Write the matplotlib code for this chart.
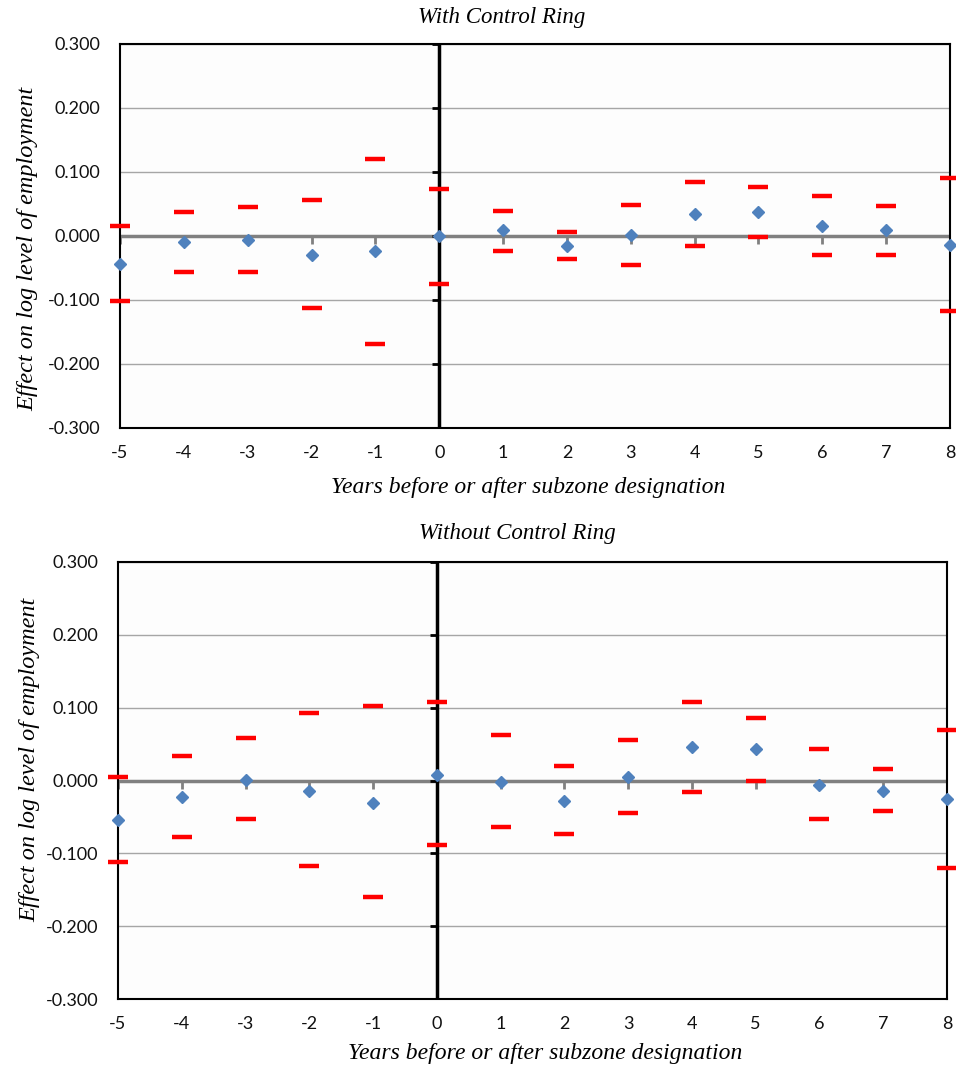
import numpy as np
import matplotlib
matplotlib.use('Agg')
import matplotlib.pyplot as plt

### Data ###
years = [-5, -4, -3, -2, -1, 0, 1, 2, 3, 4, 5, 6, 7, 8]

with_est   = [-0.044, -0.009, -0.006, -0.029, -0.024, 0.000, 0.009, -0.015, 0.001, 0.034, 0.038, 0.016, 0.010, -0.014]
with_upper = [0.016, 0.038, 0.046, 0.056, 0.121, 0.074, 0.039, 0.007, 0.049, 0.085, 0.076, 0.062, 0.047, 0.091]
with_lower = [-0.102, -0.056, -0.056, -0.113, -0.168, -0.075, -0.023, -0.036, -0.046, -0.016, -0.001, -0.030, -0.029, -0.117]

without_est   = [-0.054, -0.023, 0.001, -0.014, -0.031, 0.008, -0.002, -0.028, 0.005, 0.046, 0.043, -0.006, -0.014, -0.026]
without_upper = [0.005, 0.033, 0.059, 0.092, 0.102, 0.108, 0.062, 0.020, 0.055, 0.108, 0.086, 0.043, 0.016, 0.069]
without_lower = [-0.112, -0.077, -0.053, -0.117, -0.160, -0.089, -0.064, -0.073, -0.044, -0.016, 0.000, -0.053, -0.042, -0.120]

yticks = [-0.3, -0.2, -0.1, 0.0, 0.1, 0.2, 0.3]

panels = [
    ('With Control Ring', with_est, with_upper, with_lower),
    ('Without Control Ring', without_est, without_upper, without_lower),
]

### Layout (pixels -> figure fractions) ###
W, H = 956, 1068
axes_px = [(120, 950, 44, 428), (118, 947, 562, 999)]
title_pos = [(502, 17), (517, 533)]
xlabel_pos = [(528, 487), (545, 1053)]
ylabel_pos = [(28, 249), (30, 760)]

SERIF = ['Liberation Serif', 'DejaVu Serif']
SANS = ['Lato', 'DejaVu Sans']

fig = plt.figure(figsize=(W / 100, H / 100), dpi=100)

for i, (title, est, upper, lower) in enumerate(panels):
    l, r, t, b = axes_px[i]
    ax = fig.add_axes([l / W, 1 - b / H, (r - l) / W, (b - t) / H])
    ax.set_facecolor('#fdfdfd')

    ax.set_xlim(years[0], years[-1])
    ax.set_ylim(-0.3, 0.3)
    ax.set_yticks(yticks)
    ax.set_yticklabels([f'{v:.3f}' for v in yticks], fontfamily=SANS, fontsize=13)
    ax.set_xticks(years)
    ax.set_xticklabels([str(y) for y in years], fontfamily=SANS, fontsize=13)
    ax.tick_params(axis='both', length=0, labelcolor='#111111')
    ax.tick_params(axis='y', pad=14)
    ax.tick_params(axis='x', pad=12)

    ax.grid(axis='y', color='#a6a6a6', linewidth=1.0)
    ax.set_axisbelow(True)
    for sp in ax.spines.values():
        sp.set_color('black')
        sp.set_linewidth(1.5)

    # x axis crossing at zero (gray) with downward tick marks
    ax.axhline(0, color='#808080', linewidth=2.5, zorder=2)
    ax.plot(years, [0] * len(years), linestyle='none', marker=3, markersize=6,
            markeredgewidth=2, color='#808080', zorder=2)
    # y axis crossing at year 0 (black) with tick marks to the left
    ax.axvline(0, color='black', linewidth=2.5, zorder=2)
    ax.plot([0] * len(yticks), yticks, linestyle='none', marker=0, markersize=5,
            markeredgewidth=2, color='black', zorder=2)

    ax.plot(years, upper, linestyle='none', marker='_', markersize=15,
            markeredgewidth=3.2, color='#ff0000', clip_on=False, zorder=4)
    ax.plot(years, lower, linestyle='none', marker='_', markersize=15,
            markeredgewidth=3.2, color='#ff0000', clip_on=False, zorder=4)
    ax.plot(years, est, linestyle='none', marker='D', markersize=6.5,
            color='#4f81bd', markeredgecolor='#4f81bd', clip_on=False, zorder=5)

    tx, ty = title_pos[i]
    fig.text(tx / W, 1 - ty / H, title, ha='center', va='center',
             fontfamily=SERIF, fontstyle='italic', fontsize=16.5)
    xx, xy = xlabel_pos[i]
    fig.text(xx / W, 1 - xy / H, 'Years before or after subzone designation', ha='center', va='center',
             fontfamily=SERIF, fontstyle='italic', fontsize=17)
    yx, yy = ylabel_pos[i]
    fig.text(yx / W, 1 - yy / H, 'Effect on log level of employment', ha='center', va='center',
             rotation=90, fontfamily=SERIF, fontstyle='italic', fontsize=17.5)

fig.savefig('out.png', dpi=100)
